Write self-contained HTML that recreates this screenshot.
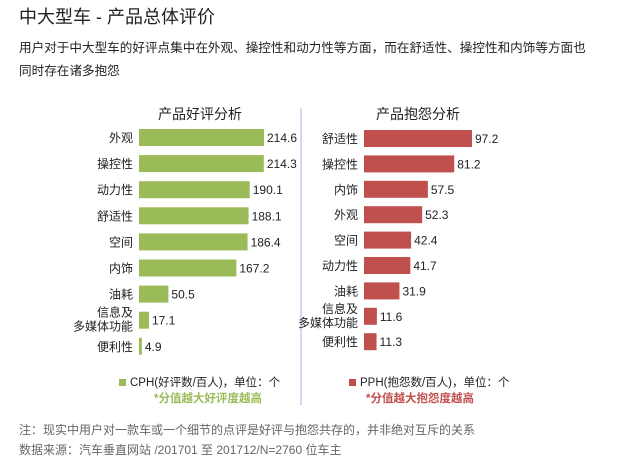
<!DOCTYPE html>
<html><head><meta charset="utf-8"><style>
body{margin:0;background:#fff;width:641px;height:468px;overflow:hidden;font-family:"Liberation Sans","Noto Sans CJK SC",sans-serif}
svg{position:absolute;left:0;top:0}
</style></head><body>
<svg id="c" width="641" height="468" xmlns="http://www.w3.org/2000/svg" font-family="Liberation Sans, Noto Sans CJK SC, sans-serif">
<text x="19" y="23" font-size="18" fill="#222">中大型车 - 产品总体评价</text>
<text x="19" y="52" font-size="12.6" fill="#222">用户对于中大型车的好评点集中在外观、操控性和动力性等方面，而在舒适性、操控性和内饰等方面也</text>
<text x="19" y="75" font-size="12.6" fill="#222">同时存在诸多抱怨</text>
<line x1="301" y1="108" x2="301" y2="405" stroke="#9fb3e0" stroke-width="1"/>
<text x="200" y="119" font-size="14" text-anchor="middle" fill="#222">产品好评分析</text>
<text x="418" y="119" font-size="14" text-anchor="middle" fill="#222">产品抱怨分析</text>
<g id="left"></g>
<g id="right"></g>
<rect x="119" y="379" width="7" height="7" fill="#9bbb59"/>
<text x="130" y="386" font-size="11.5" fill="#222">CPH(好评数/百人)，单位：个</text>
<text x="208" y="402" font-size="11.5" font-weight="bold" fill="#9bbb59" text-anchor="middle">*分值越大好评度越高</text>
<rect x="349" y="379" width="7" height="7" fill="#c0504d"/>
<text x="360" y="386" font-size="11.5" fill="#222">PPH(抱怨数/百人)，单位：个</text>
<text x="420" y="402" font-size="11.5" font-weight="bold" fill="#c0504d" text-anchor="middle">*分值越大抱怨度越高</text>
<text x="19" y="434" font-size="12" fill="#666">注：现实中用户对一款车或一个细节的点评是好评与抱怨共存的，并非绝对互斥的关系</text>
<text x="19" y="454" font-size="12" fill="#666">数据来源：汽车垂直网站 /201701 至 201712/N=2760 位车主</text>
</svg>
<script>
const praiseCategories=["外观","操控性","动力性","舒适性","空间","内饰","油耗","信息及\n多媒体功能","便利性"];
const praiseValues=[214.6,214.3,190.1,188.1,186.4,167.2,50.5,17.1,4.9];
const complaintCategories=["舒适性","操控性","内饰","外观","空间","动力性","油耗","信息及\n多媒体功能","便利性"];
const complaintValues=[97.2,81.2,57.5,52.3,42.4,41.7,31.9,11.6,11.3];
const NS="http://www.w3.org/2000/svg";
function draw(g,cats,vals,x0,scale,y0,step,color,prefix){
  const xs=v=>v*scale;
  const ys=i=>y0+i*step;
  cats.forEach((c,i)=>{
    const y=ys(i);
    const r=document.createElementNS(NS,"rect");
    r.setAttribute("x",x0);r.setAttribute("y",y);
    r.setAttribute("width",xs(vals[i]));r.setAttribute("height",17);
    r.setAttribute("fill",color);
    
    
    g.appendChild(r);
    const t=document.createElementNS(NS,"text");
    t.setAttribute("x",x0+xs(vals[i])+3);t.setAttribute("y",y+13);
    t.setAttribute("font-size","12");t.setAttribute("fill","#222");
    t.textContent=vals[i].toFixed(1);
    
    
    g.appendChild(t);
    const lines=c.split("\n");
    lines.forEach((ln,k)=>{
      const l=document.createElementNS(NS,"text");
      l.setAttribute("x",x0-6);
      const yy=lines.length>1?y+5+k*14:y+13;
      l.setAttribute("y",yy);
      l.setAttribute("font-size","12");l.setAttribute("fill","#222");
      l.setAttribute("text-anchor","end");
      l.textContent=ln;
      
      
      g.appendChild(l);
    });
  });
}
draw(document.getElementById("left"),praiseCategories,praiseValues,139,125/214.6,129,26.1,"#9bbb59","praise");
draw(document.getElementById("right"),complaintCategories,complaintValues,364,108/97.2,130,25.4,"#c0504d","complaint");
</script>
</body></html>
